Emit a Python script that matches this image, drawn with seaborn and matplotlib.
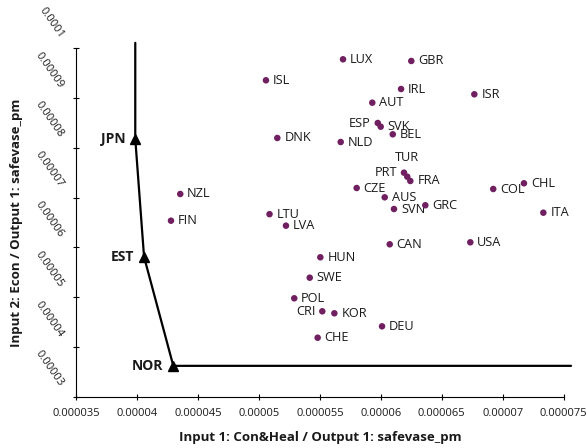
import pandas as pd
import seaborn as sns
import matplotlib.pyplot as plt
from matplotlib.transforms import ScaledTranslation
from matplotlib.ticker import MultipleLocator, FuncFormatter

# DMU scores (input/output ratios)
countries = ['ISL', 'DNK', 'NZL', 'FIN', 'LTU', 'LVA', 'LUX', 'GBR', 'IRL', 'ISR',
             'AUT', 'ESP', 'SVK', 'BEL', 'NLD', 'PRT', 'TUR', 'FRA', 'CZE', 'COL',
             'CHL', 'AUS', 'GRC', 'SVN', 'ITA', 'CAN', 'USA', 'HUN', 'SWE', 'POL',
             'CRI', 'KOR', 'DEU', 'CHE']
con_heal = [50.58e-6, 51.51e-6, 43.55e-6, 42.79e-6, 50.87e-6, 52.22e-6, 56.90e-6, 62.50e-6,
            61.66e-6, 67.67e-6, 59.30e-6, 59.75e-6, 59.99e-6, 60.98e-6, 56.71e-6, 61.90e-6,
            62.17e-6, 62.42e-6, 58.02e-6, 69.22e-6, 71.74e-6, 60.32e-6, 63.65e-6, 61.08e-6,
            73.33e-6, 60.73e-6, 67.34e-6, 55.04e-6, 54.17e-6, 52.90e-6, 55.20e-6, 56.19e-6,
            60.10e-6, 54.82e-6]
econ = [93.57e-6, 81.98e-6, 70.73e-6, 65.36e-6, 66.67e-6, 64.36e-6, 97.79e-6, 97.45e-6,
        91.82e-6, 90.76e-6, 89.07e-6, 84.99e-6, 84.25e-6, 82.72e-6, 81.17e-6, 75.01e-6,
        74.20e-6, 73.34e-6, 71.93e-6, 71.73e-6, 72.88e-6, 70.06e-6, 68.46e-6, 67.71e-6,
        66.97e-6, 60.62e-6, 61.02e-6, 58.01e-6, 53.91e-6, 49.77e-6, 47.16e-6, 46.76e-6,
        44.14e-6, 41.85e-6]

# efficient DMUs and the frontier (line runs past the plot edges)
eff_names = ['JPN', 'EST', 'NOR']
eff_x = [39.86e-6, 40.58e-6, 42.98e-6]
eff_y = [81.8e-6, 58.1e-6, 36.2e-6]
frontier_x = [39.86e-6, 39.86e-6, 40.58e-6, 42.98e-6, 75.6e-6]
frontier_y = [101.1e-6, 81.8e-6, 58.1e-6, 36.2e-6, 36.2e-6]

# labels placed left / above instead of the default right
left_labels = ['ESP', 'PRT', 'CRI']
above_labels = ['TUR']

df = pd.DataFrame({'country': countries, 'x': con_heal, 'y': econ})

sns.set_style('white')
plt.rcParams['font.family'] = ['Open Sans', 'DejaVu Sans']

fig = plt.figure(figsize=(5.87, 4.48), dpi=100)
ax = fig.add_axes([0.1295, 0.1145, 0.8308, 0.7777])

ax.plot(frontier_x, frontier_y, color='black', lw=1.6, clip_on=False, zorder=3)
ax.plot(eff_x, eff_y, linestyle='none', marker='^', ms=7.5, color='black',
        clip_on=False, zorder=4)
for name, x, y in zip(eff_names, eff_x, eff_y):
    ax.annotate(name, (x, y), xytext=(-7, 0), textcoords='offset points',
                ha='right', va='center', fontsize=10, fontweight='bold', color='#1a1a1a')

sns.scatterplot(data=df, x='x', y='y', color='#702060', s=22, edgecolor='none',
                ax=ax, zorder=5, clip_on=False)
for _, r in df.iterrows():
    if r['country'] in left_labels:
        off, ha = (-5, 0), 'right'
    elif r['country'] in above_labels:
        off, ha = (0, 13.5), 'center'
    else:
        off, ha = (5, 0), 'left'
    ax.annotate(r['country'], (r['x'], r['y']), xytext=off, textcoords='offset points',
                ha=ha, va='center', fontsize=9.2, color='#1a1a1a')

ax.set_xlim(35e-6, 75e-6)
ax.set_ylim(30e-6, 100e-6)
ax.xaxis.set_major_locator(MultipleLocator(5e-6))
ax.yaxis.set_major_locator(MultipleLocator(10e-6))
fmt = FuncFormatter(lambda v, p: format(round(v, 8), '.8f').rstrip('0').rstrip('.'))
ax.xaxis.set_major_formatter(fmt)
ax.yaxis.set_major_formatter(fmt)

for side in ['top', 'right']:
    ax.spines[side].set_visible(False)
for side in ['left', 'bottom']:
    ax.spines[side].set_color('black')
    ax.spines[side].set_linewidth(0.8)

ax.tick_params(axis='both', direction='inout', length=5, width=0.8, color='black',
               bottom=True, left=True, labelsize=8, labelcolor='#1a1a1a')
ax.tick_params(axis='x', pad=5.5)
ax.tick_params(axis='y', pad=8)
shift = ScaledTranslation(0, 0.11, fig.dpi_scale_trans)
for lab in ax.get_yticklabels():
    lab.set_rotation(-55)
    lab.set_ha('right')
    lab.set_va('center')
    lab.set_rotation_mode('anchor')
    lab.set_transform(lab.get_transform() + shift)

ax.set_xlabel('Input 1: Con&Heal / Output 1: safevase_pm', fontsize=9.5, fontweight='bold',
              color='#1a1a1a')
ax.set_ylabel('Input 2: Econ / Output 1: safevase_pm', fontsize=9.5, fontweight='bold',
              color='#1a1a1a')
ax.xaxis.set_label_coords(0.5, -0.098)
ax.yaxis.set_label_coords(-0.108, 0.5)

fig.savefig('out.png', dpi=100)
